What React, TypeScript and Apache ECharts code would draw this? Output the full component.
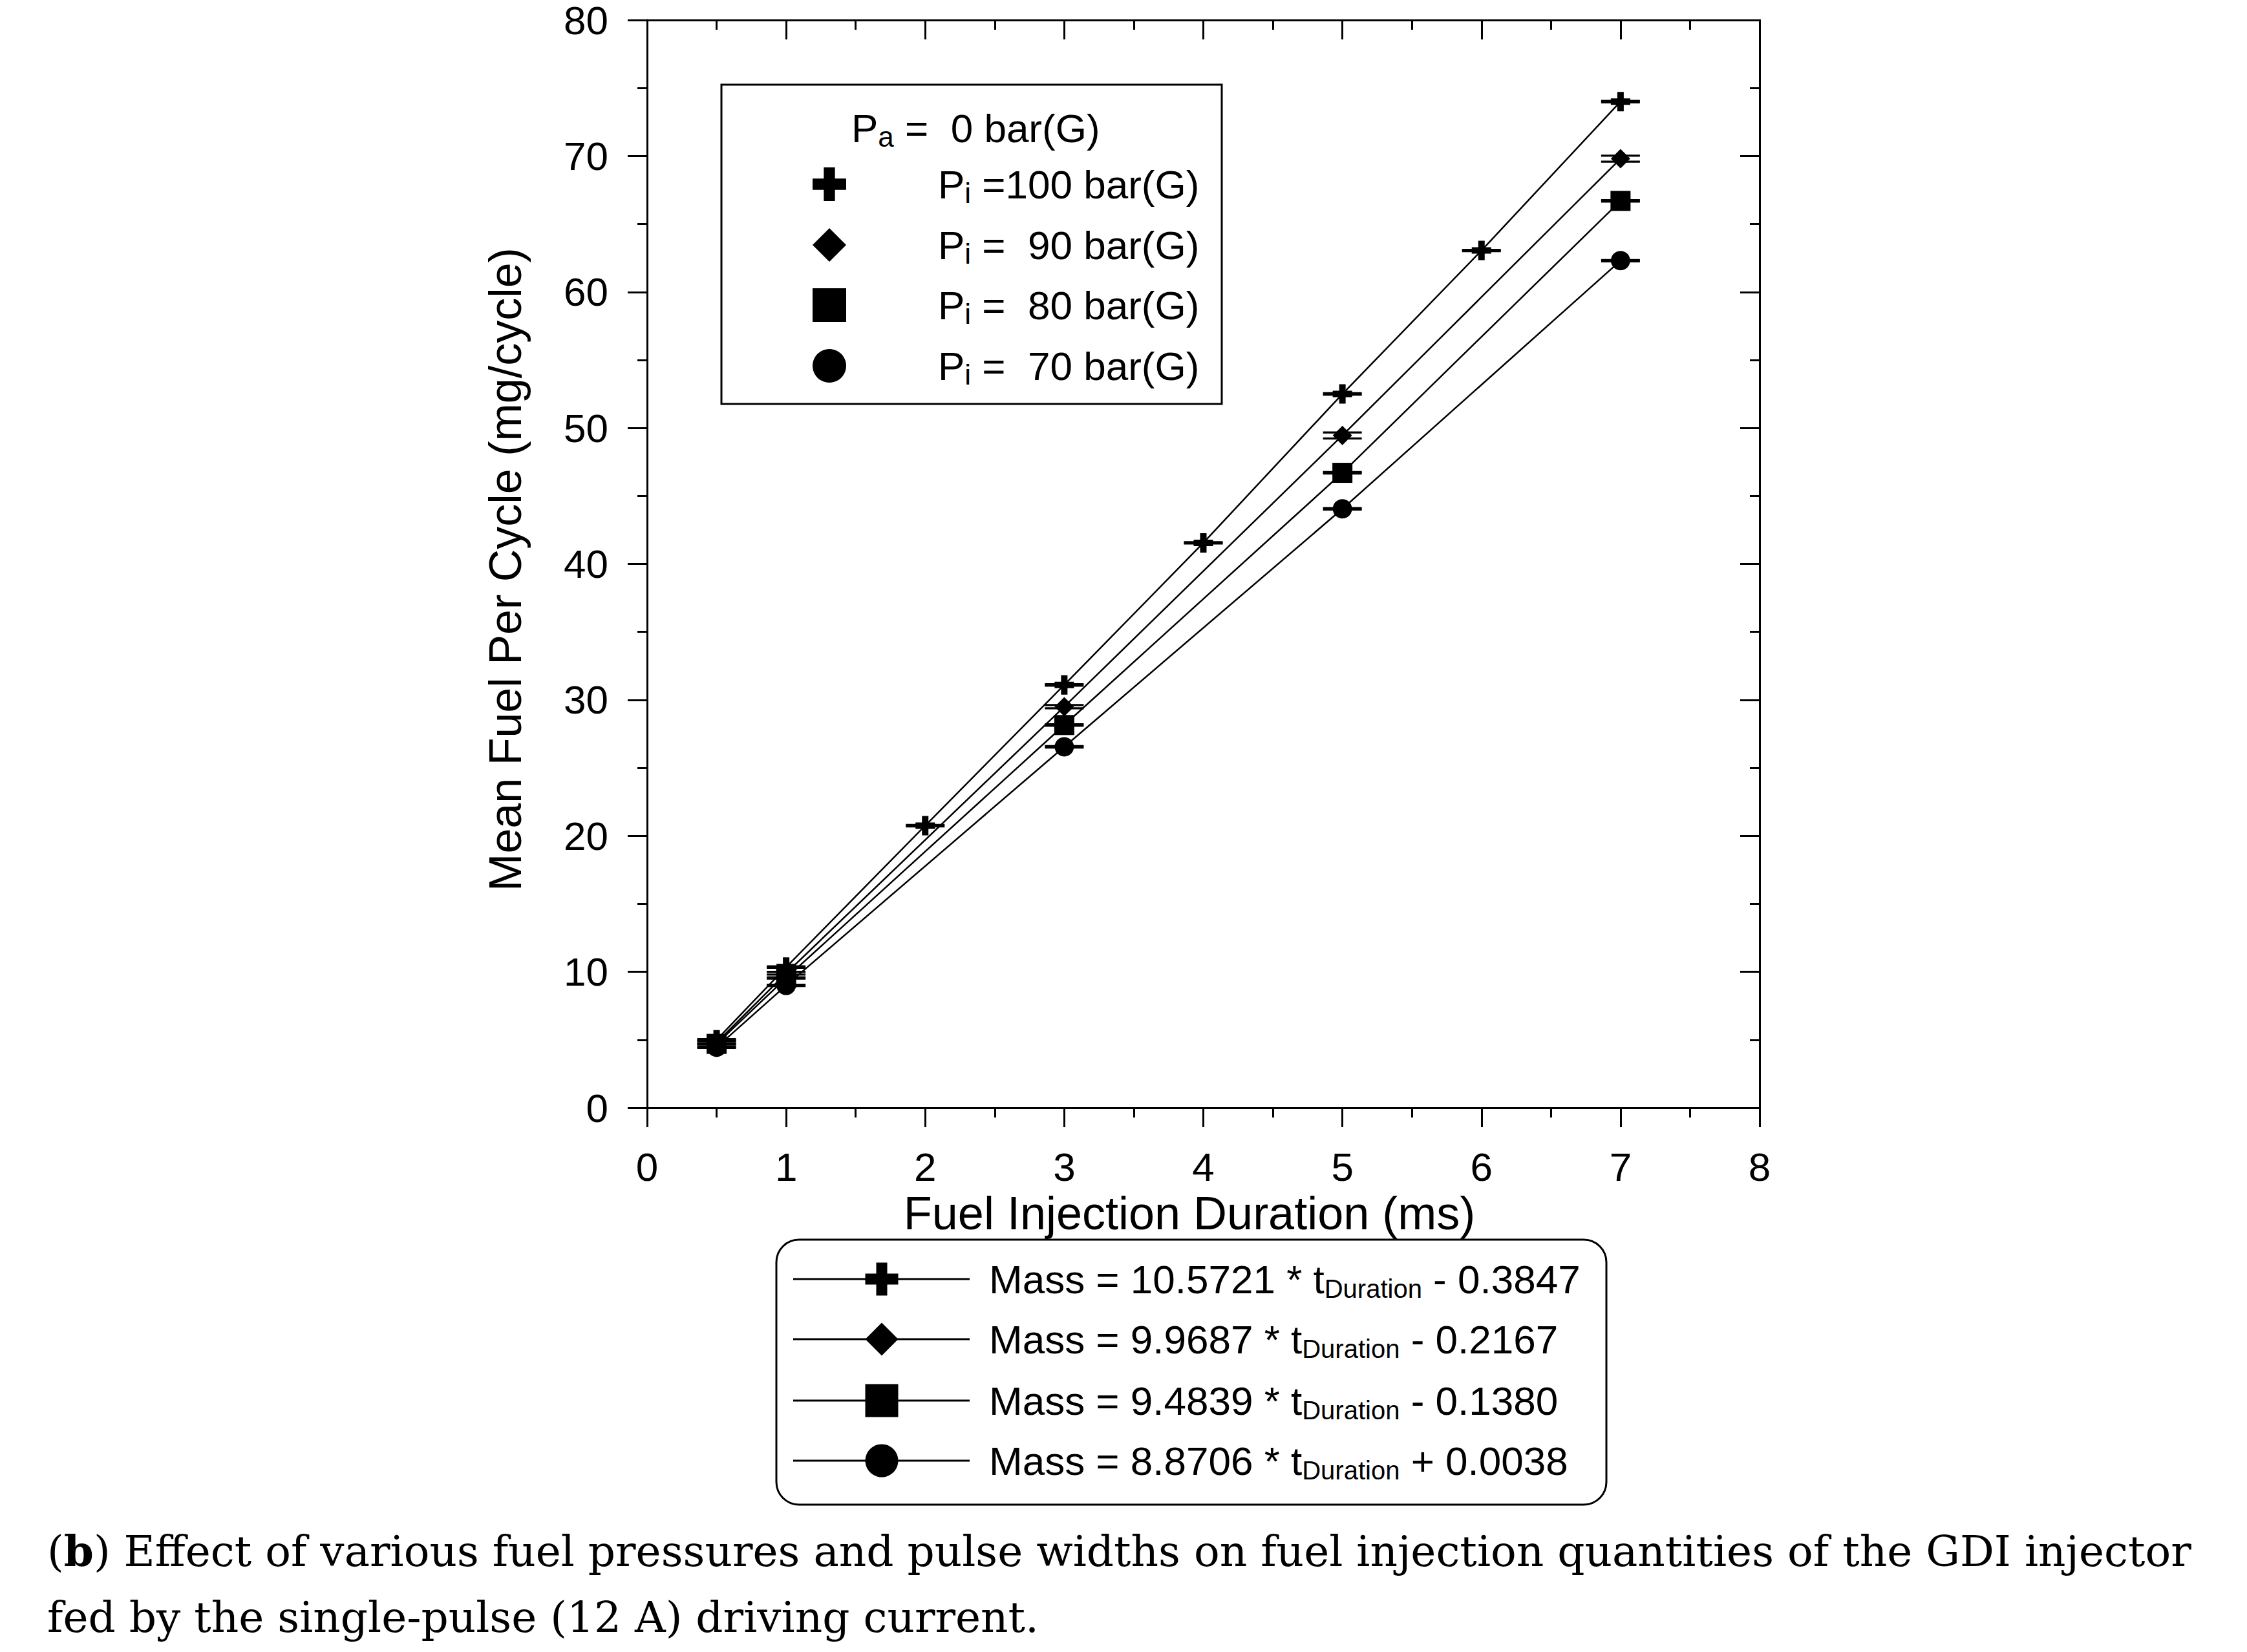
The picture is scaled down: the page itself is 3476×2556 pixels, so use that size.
import React, { useEffect, useRef } from "react";
import * as echarts from "echarts";

// ---------- data ----------
const xFull = [0.5, 1, 2, 3, 4, 5, 6, 7];
const xPart = [0.5, 1, 3, 5, 7];
const y100 = [5.0, 10.35, 20.75, 31.1, 41.55, 52.5, 63.05, 74.0];
const y90 = [4.8, 9.9, 29.5, 49.45, 69.8];
const y80 = [4.7, 9.55, 28.15, 46.7, 66.7];
const y70 = [4.45, 9.0, 26.55, 44.05, 62.3];
const e100 = [0.05, 0.05, 0.05, 0.05, 0.05, 0.05, 0.05, 0.05];
const e90 = [0.1, 0.1, 0.12, 0.22, 0.22];
const e80 = [0.05, 0.05, 0.05, 0.05, 0.05];
const e70 = [0.05, 0.05, 0.05, 0.05, 0.05];

const pressureLabels = ["=100 bar(G)", "=\u00a0\u00a090 bar(G)", "=\u00a0\u00a080 bar(G)", "=\u00a0\u00a070 bar(G)"];
const slopes = ["10.5721", "9.9687", "9.4839", "8.8706"];
const intercepts = ["- 0.3847", "- 0.2167", "- 0.1380", "+ 0.0038"];
const xTitle = "Fuel Injection Duration (ms)";
const yTitle = "Mean Fuel Per Cycle (mg/cycle)";
const captionLine1 = ") Effect of various fuel pressures and pulse widths on fuel injection quantities of the GDI injector";
const captionLine2 = "fed by the single-pulse (12 A) driving current.";

const X_MIN = 0, X_MAX = 8, X_INT = 1;
const Y_MIN = 0, Y_MAX = 80, Y_INT = 10;

const FONT = "'Liberation Sans', Arial, Helvetica, sans-serif";
const SERIF = "'DejaVu Serif', 'Liberation Serif', serif";
const PLUS_PATH = "path://M10,0H20V10H30V20H20V30H10V20H0V10H10Z";

const symbols = [PLUS_PATH, "diamond", "rect", "circle"];

function plusPoints(cx: number, cy: number, s: number) {
  const h = s / 2, t = s / 6;
  return [
    [cx - t, cy - h], [cx + t, cy - h], [cx + t, cy - t], [cx + h, cy - t],
    [cx + h, cy + t], [cx + t, cy + t], [cx + t, cy + h], [cx - t, cy + h],
    [cx - t, cy + t], [cx - h, cy + t], [cx - h, cy - t], [cx - t, cy - t],
  ];
}

function marker(kind: number, cx: number, cy: number, s: number) {
  const style = { fill: "#000", stroke: "none" };
  if (kind === 0) return { type: "polygon", shape: { points: plusPoints(cx, cy, s) }, style, z: 20 };
  if (kind === 1)
    return {
      type: "polygon",
      shape: { points: [[cx, cy - s / 2], [cx + s / 2, cy], [cx, cy + s / 2], [cx - s / 2, cy]] },
      style, z: 20,
    };
  if (kind === 2) return { type: "rect", shape: { x: cx - s / 2, y: cy - s / 2, width: s, height: s }, style, z: 20 };
  return { type: "circle", shape: { cx, cy, r: s / 2 }, style, z: 20 };
}

export default function App() {
  const ref = useRef<HTMLDivElement>(null);
  useEffect(() => {
    if (!ref.current) return;
    const chart = echarts.init(ref.current, undefined, { renderer: "svg" });

    const lineData = [
      xFull.map((x, i) => [x, y100[i]]),
      xPart.map((x, i) => [x, y90[i]]),
      xPart.map((x, i) => [x, y80[i]]),
      xPart.map((x, i) => [x, y70[i]]),
    ];
    const errData = [
      xFull.map((x, i) => [x, y100[i], e100[i]]),
      xPart.map((x, i) => [x, y90[i], e90[i]]),
      xPart.map((x, i) => [x, y80[i], e80[i]]),
      xPart.map((x, i) => [x, y70[i], e70[i]]),
    ];

    const series: any[] = [];
    lineData.forEach((d, k) => {
      series.push({
        type: "custom",
        xAxisIndex: 0,
        yAxisIndex: 0,
        silent: true,
        z: 1,
        encode: { x: 0, y: 1 },
        data: errData[k],
        renderItem: (params: any, api: any) => {
          const x = api.value(0), y = api.value(1), e = api.value(2);
          const hi = api.coord([x, y + e]);
          const lo = api.coord([x, y - e]);
          const hw = 30;
          const st = { stroke: "#000", lineWidth: 3.3 };
          return {
            type: "group",
            children: [
              { type: "line", shape: { x1: hi[0] - hw, y1: hi[1], x2: hi[0] + hw, y2: hi[1] }, style: st },
              { type: "line", shape: { x1: lo[0] - hw, y1: lo[1], x2: lo[0] + hw, y2: lo[1] }, style: st },
              { type: "line", shape: { x1: hi[0], y1: hi[1], x2: lo[0], y2: lo[1] }, style: st },
            ],
          };
        },
      });
      series.push({
        type: "line",
        xAxisIndex: 0,
        yAxisIndex: 0,
        z: 3,
        data: d,
        symbol: symbols[k],
        symbolSize: k === 2 ? 31 : 30,
        showSymbol: true,
        lineStyle: { color: "#000", width: 2.5 },
        itemStyle: { color: "#000", borderWidth: 0 },
      });
    });

    const axisLine = { show: true, onZero: false, lineStyle: { color: "#000", width: 3 } };
    const labelStyle = { color: "#000", fontSize: 62, fontFamily: FONT, margin: 60 };

    const graphic: any[] = [];
    // axis titles
    graphic.push({
      type: "text", x: 1840, y: 1877, z: 10,
      style: { text: xTitle, fontSize: 72, fontFamily: FONT, fill: "#000", align: "center", verticalAlign: "middle" },
    });
    graphic.push({
      type: "text", x: 782, y: 881, rotation: Math.PI / 2, z: 10,
      style: { text: yTitle, fontSize: 70, fontFamily: FONT, fill: "#000", align: "center", verticalAlign: "middle" },
    });

    const rich = (mainSize: number, subSize: number) => ({
      m: { fontSize: mainSize, fontFamily: FONT, lineHeight: 70, verticalAlign: "middle", color: "#000" },
      s: { fontSize: subSize, fontFamily: FONT, lineHeight: 24, verticalAlign: "bottom", color: "#000" },
    });

    // top legend box
    graphic.push({
      type: "rect", z: 15,
      shape: { x: 1116, y: 131, width: 774, height: 494 },
      style: { fill: "#fff", stroke: "#000", lineWidth: 3 },
    });
    graphic.push({
      type: "text", x: 1317, y: 198, z: 20,
      style: { text: "{m|P}{s|a}{m|\u00a0=\u00a0\u00a00 bar(G)}", rich: rich(62, 44), align: "left", verticalAlign: "middle" },
    });
    const topRows = [285, 379, 472, 566];
    topRows.forEach((ry, k) => {
      graphic.push(marker(k, 1283, ry, 52));
      graphic.push({
        type: "text", x: 1451, y: ry, z: 20,
        style: { text: `{m|P}{s|i}{m|\u00a0${pressureLabels[k]}}`, rich: rich(62, 44), align: "left", verticalAlign: "middle" },
      });
    });

    // bottom legend box
    graphic.push({
      type: "rect", z: 15,
      shape: { x: 1201, y: 1918, width: 1284, height: 410, r: 35 },
      style: { fill: "#fff", stroke: "#000", lineWidth: 3 },
    });
    const botRows = [1979, 2072, 2167, 2260];
    botRows.forEach((ry, k) => {
      graphic.push({
        type: "line", z: 18,
        shape: { x1: 1227, y1: ry, x2: 1500, y2: ry },
        style: { stroke: "#000", lineWidth: 3 },
      });
      graphic.push(marker(k, 1364, ry, 51));
      graphic.push({
        type: "text", x: 1530, y: ry, z: 20,
        style: {
          text: `{m|Mass = ${slopes[k]} * t}{s|Duration}{m| ${intercepts[k]}}`,
          rich: rich(62, 40), align: "left", verticalAlign: "middle",
        },
      });
    });

    // caption
    graphic.push({
      type: "text", x: 73, y: 2400, z: 20,
      style: {
        text: `{r|(}{b|b}{r|${captionLine1}}`,
        rich: {
          r: { fontSize: 66, fontFamily: SERIF, color: "#000" },
          b: { fontSize: 66, fontFamily: SERIF, fontWeight: "bold", color: "#000" },
        },
        align: "left", verticalAlign: "middle",
      },
    });
    graphic.push({
      type: "text", x: 73, y: 2502, z: 20,
      style: { text: captionLine2, fontSize: 66, fontFamily: SERIF, fill: "#000", align: "left", verticalAlign: "middle" },
    });

    chart.setOption({
      animation: false,
      backgroundColor: "#fff",
      grid: { left: 1001, right: 754, top: 31, bottom: 842, containLabel: false },
      xAxis: [
        {
          type: "value", position: "bottom", min: X_MIN, max: X_MAX, interval: X_INT,
          axisLine, splitLine: { show: false },
          axisTick: { show: true, inside: false, length: 30, lineStyle: { color: "#000", width: 3 } },
          minorTick: { show: true, splitNumber: 2, length: 15, lineStyle: { color: "#000", width: 3 } },
          axisLabel: labelStyle,
        },
        {
          type: "value", position: "top", min: X_MIN, max: X_MAX, interval: X_INT,
          axisLine, splitLine: { show: false },
          axisTick: { show: true, inside: true, length: 30, lineStyle: { color: "#000", width: 3 } },
          minorTick: { show: true, splitNumber: 2, length: 15, lineStyle: { color: "#000", width: 3 } },
          axisLabel: { show: false },
        },
      ],
      yAxis: [
        {
          type: "value", position: "left", min: Y_MIN, max: Y_MAX, interval: Y_INT,
          axisLine, splitLine: { show: false },
          axisTick: { show: true, inside: false, length: 30, lineStyle: { color: "#000", width: 3 } },
          minorTick: { show: true, splitNumber: 2, length: 15, lineStyle: { color: "#000", width: 3 } },
          axisLabel: labelStyle,
        },
        {
          type: "value", position: "right", min: Y_MIN, max: Y_MAX, interval: Y_INT,
          axisLine, splitLine: { show: false },
          axisTick: { show: true, inside: true, length: 30, lineStyle: { color: "#000", width: 3 } },
          minorTick: { show: true, splitNumber: 2, length: 15, lineStyle: { color: "#000", width: 3 } },
          axisLabel: { show: false },
        },
      ],
      series,
      graphic,
    });

    return () => chart.dispose();
  }, []);

  return (
    <div
      ref={ref}
      style={{ position: "absolute", left: 0, top: 0, width: 3476, height: 2556, background: "#fff" }}
    />
  );
}
